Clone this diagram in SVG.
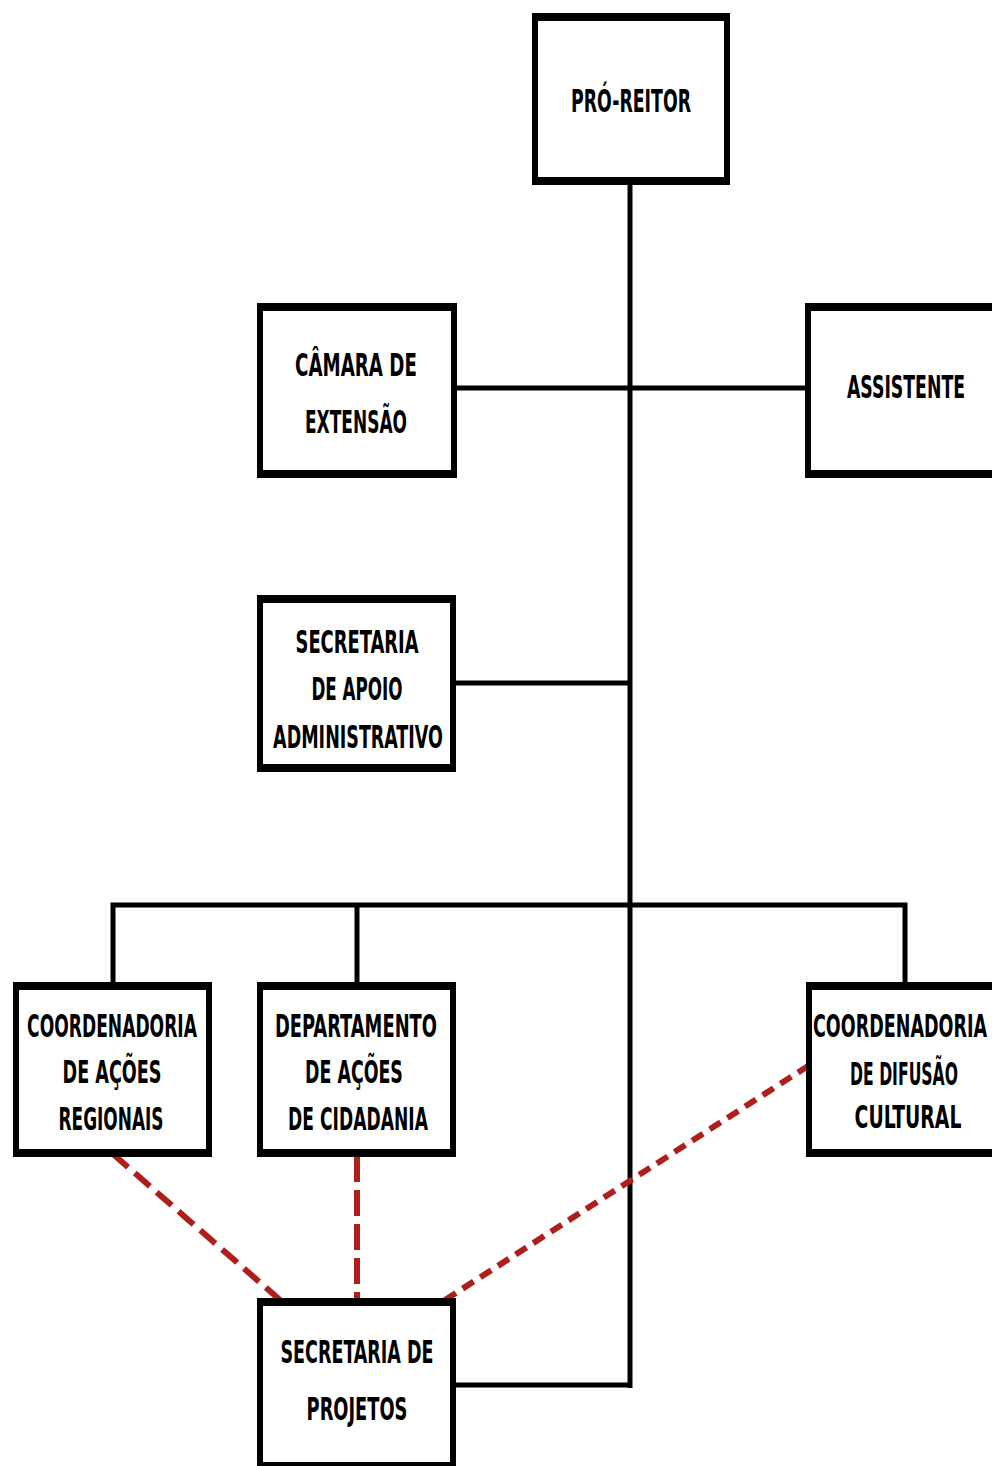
<svg xmlns="http://www.w3.org/2000/svg" width="992" height="1466" viewBox="0 0 992 1466">
<style>
.o{fill:#000}
.i{fill:#fff}
.t{font-family:"DejaVu Sans Condensed","Liberation Sans Narrow","Liberation Sans",sans-serif;font-weight:bold;font-size:32px;fill:#000;text-anchor:middle}
.c{stroke:#000;stroke-width:5;fill:none}
.d{stroke:#ae1f1b;stroke-width:6;fill:none}
</style>
<rect width="992" height="1466" fill="#fff"/>
<g id="connectors">
<line class="c" x1="630" y1="183" x2="630" y2="1388"/>
<line class="c" x1="455" y1="388" x2="808" y2="388"/>
<line class="c" x1="455" y1="683" x2="630" y2="683"/>
<polyline class="c" points="113,984 113,905 905,905 905,984"/>
<line class="c" x1="357" y1="905" x2="357" y2="984"/>
<line class="c" x1="453" y1="1385" x2="632" y2="1385"/>
<line class="d" x1="113" y1="1154" x2="280" y2="1300" stroke-dasharray="20 9"/>
<line class="d" x1="357" y1="1156" x2="357" y2="1300" stroke-dasharray="26 8"/>
<line class="d" x1="445" y1="1300" x2="808" y2="1066" stroke-dasharray="13 8"/>
</g>
<g id="pro-reitor">
<rect class="o" x="532" y="13" width="198" height="172"/>
<rect class="i" x="538" y="21" width="186" height="156"/>
<text class="t" transform="translate(631,112) scale(0.6,1)" textLength="200" lengthAdjust="spacingAndGlyphs">PRÓ-REITOR</text>
</g>
<g id="camara">
<rect class="o" x="257" y="303" width="200" height="175"/>
<rect class="i" x="263" y="311" width="188" height="159"/>
<text class="t" transform="translate(356,376) scale(0.6,1)" textLength="203" lengthAdjust="spacingAndGlyphs">CÂMARA DE</text>
<text class="t" transform="translate(356,433) scale(0.6,1)" textLength="170" lengthAdjust="spacingAndGlyphs">EXTENSÃO</text>
</g>
<g id="assistente">
<rect class="o" x="805" y="303" width="200" height="175"/>
<rect class="i" x="811" y="311" width="188" height="159"/>
<text class="t" transform="translate(906,398) scale(0.6,1)" textLength="197" lengthAdjust="spacingAndGlyphs">ASSISTENTE</text>
</g>
<g id="secretaria-apoio">
<rect class="o" x="257" y="595" width="199" height="177"/>
<rect class="i" x="263" y="603" width="187" height="161"/>
<text class="t" transform="translate(357,653) scale(0.6,1)" textLength="205" lengthAdjust="spacingAndGlyphs">SECRETARIA</text>
<text class="t" transform="translate(357,700) scale(0.6,1)" textLength="152" lengthAdjust="spacingAndGlyphs">DE APOIO</text>
<text class="t" transform="translate(358,748) scale(0.6,1)" textLength="283" lengthAdjust="spacingAndGlyphs">ADMINISTRATIVO</text>
</g>
<g id="coord-regionais">
<rect class="o" x="13" y="982" width="199" height="175"/>
<rect class="i" x="19" y="990" width="187" height="159"/>
<text class="t" transform="translate(112,1037) scale(0.6,1)" textLength="283" lengthAdjust="spacingAndGlyphs">COORDENADORIA</text>
<text class="t" transform="translate(112,1083) scale(0.6,1)" textLength="165" lengthAdjust="spacingAndGlyphs">DE AÇÕES</text>
<text class="t" transform="translate(111,1130) scale(0.6,1)" textLength="175" lengthAdjust="spacingAndGlyphs">REGIONAIS</text>
</g>
<g id="departamento">
<rect class="o" x="257" y="982" width="199" height="175"/>
<rect class="i" x="263" y="990" width="187" height="159"/>
<text class="t" transform="translate(356,1037) scale(0.6,1)" textLength="270" lengthAdjust="spacingAndGlyphs">DEPARTAMENTO</text>
<text class="t" transform="translate(354,1083) scale(0.6,1)" textLength="163" lengthAdjust="spacingAndGlyphs">DE AÇÕES</text>
<text class="t" transform="translate(358,1130) scale(0.6,1)" textLength="233" lengthAdjust="spacingAndGlyphs">DE CIDADANIA</text>
</g>
<g id="coord-difusao">
<rect class="o" x="806" y="982" width="200" height="175"/>
<rect class="i" x="812" y="990" width="188" height="159"/>
<text class="t" transform="translate(900,1037) scale(0.6,1)" textLength="290" lengthAdjust="spacingAndGlyphs">COORDENADORIA</text>
<text class="t" transform="translate(904,1085) scale(0.6,1)" textLength="180" lengthAdjust="spacingAndGlyphs">DE DIFUSÃO</text>
<text class="t" transform="translate(908,1128) scale(0.6,1)" textLength="178" lengthAdjust="spacingAndGlyphs">CULTURAL</text>
</g>
<g id="secretaria-projetos">
<rect class="o" x="257" y="1298" width="199" height="168"/>
<rect class="i" x="263" y="1306" width="187" height="156"/>
<text class="t" transform="translate(357,1363) scale(0.6,1)" textLength="255" lengthAdjust="spacingAndGlyphs">SECRETARIA DE</text>
<text class="t" transform="translate(357,1420) scale(0.6,1)" textLength="168" lengthAdjust="spacingAndGlyphs">PROJETOS</text>
</g>
</svg>
